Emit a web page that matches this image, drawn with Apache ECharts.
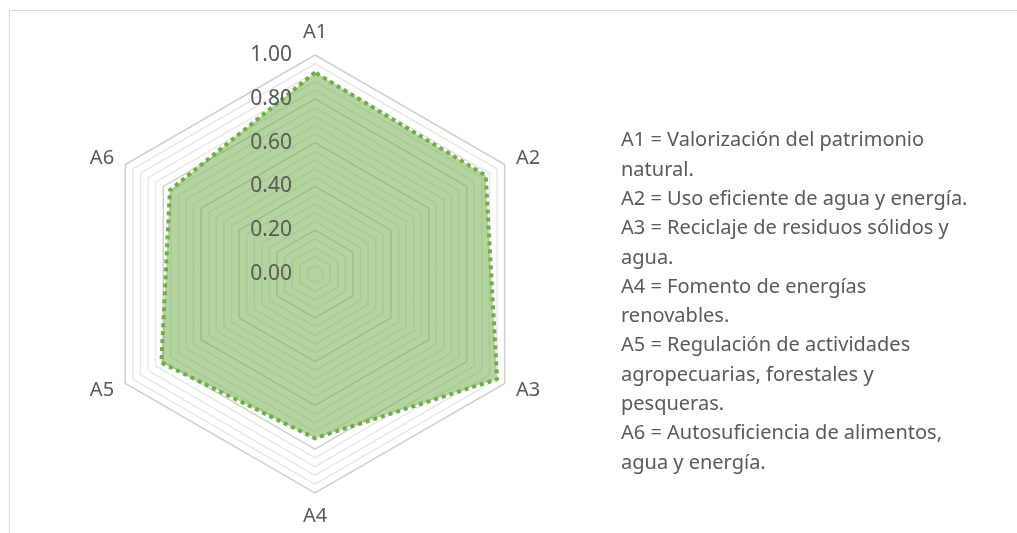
<!DOCTYPE html>
<html>
<head>
	<meta charset="utf-8">
	<title>Radar</title>
	<script src="https://cdn.jsdelivr.net/npm/echarts@6.0.0/dist/echarts.min.js"></script>
	<style>
		body { margin: 0; background: #fff; }
		#chart { width: 1017px; height: 533px; }
	</style>
</head>
<body>
	<div id="chart"></div>
	<script>
		// ejes en orden horario, empezando arriba
		var categories = ['A1', 'A2', 'A3', 'A4', 'A5', 'A6'];
		var values = [0.92, 0.90, 0.96, 0.75, 0.81, 0.765];
		var tickLabels = [0, 0.2, 0.4, 0.6, 0.8, 1.0];
		var notes = [
			'A1 = Valorización del patrimonio',
			'natural.',
			'A2 = Uso eficiente de agua y energía.',
			'A3 = Reciclaje de residuos sólidos y',
			'agua.',
			'A4 = Fomento de energías',
			'renovables.',
			'A5 = Regulación de actividades',
			'agropecuarias, forestales y',
			'pesqueras.',
			'A6 = Autosuficiencia de alimentos,',
			'agua y energía.'
		];

		var font = 'Noto Sans';
		var textColor = '#595959';

		// echarts recorre el radar en sentido antihorario, asi que invierto el orden
		var order = [0];
		for (var i = categories.length - 1; i > 0; i--) order.push(i);
		var indicator = order.map(function (i) { return { name: categories[i], min: 0, max: 1 }; });
		var radarValues = order.map(function (i) { return values[i]; });

		var chart = echarts.init(document.getElementById('chart'));
		chart.setOption({
			animation: false,
			textStyle: { fontFamily: font },
			graphic: [
				{ type: 'line', shape: { x1: 9.5, y1: 10.5, x2: 1017, y2: 10.5 }, style: { stroke: '#d9d9d9', lineWidth: 1 } },
				{ type: 'line', shape: { x1: 9.5, y1: 10.5, x2: 9.5, y2: 533 }, style: { stroke: '#d9d9d9', lineWidth: 1 } },
				{
					type: 'text', left: 621, top: 126,
					style: {
						text: notes.join('\n'),
						font: '20px "' + font + '"',
						fill: textColor,
						lineHeight: 29.3
					}
				}
			],
			// eje de valores para las etiquetas 0.00 - 1.00 sobre el eje A1
			grid: { left: 300, top: 55, width: 10, height: 219, z: 10 },
			xAxis: { type: 'value', show: false },
			yAxis: {
				type: 'value', min: tickLabels[0], max: tickLabels[tickLabels.length - 1], interval: 0.2,
				z: 10,
				axisLine: { show: false }, axisTick: { show: false }, splitLine: { show: false },
				axisLabel: {
					color: textColor, fontSize: 21, fontFamily: font, margin: 8,
					formatter: function (v) { return v.toFixed(2); }
				}
			},
			radar: {
				center: [315, 274],
				radius: 219,
				startAngle: 90,
				shape: 'polygon',
				splitNumber: 25,
				indicator: indicator,
				axisName: { color: textColor, fontSize: 20, fontFamily: font },
				nameGap: 13,
				axisLine: { show: false },
				axisTick: { show: false },
				axisLabel: { show: false },
				splitArea: { show: false },
				splitLine: {
					lineStyle: {
						color: ['#d0d0d0', '#e8e8e8', '#e8e8e8', '#e8e8e8', '#e8e8e8'],
						width: 1.5
					}
				}
			},
			series: [{
				type: 'radar',
				symbol: 'none',
				data: [{
					value: radarValues,
					lineStyle: { color: '#70ad47', width: 4, type: [4, 4] },
					areaStyle: { color: '#70ad47', opacity: 0.52 }
				}],
				z: 3
			}]
		});
	</script>
</body>
</html>
